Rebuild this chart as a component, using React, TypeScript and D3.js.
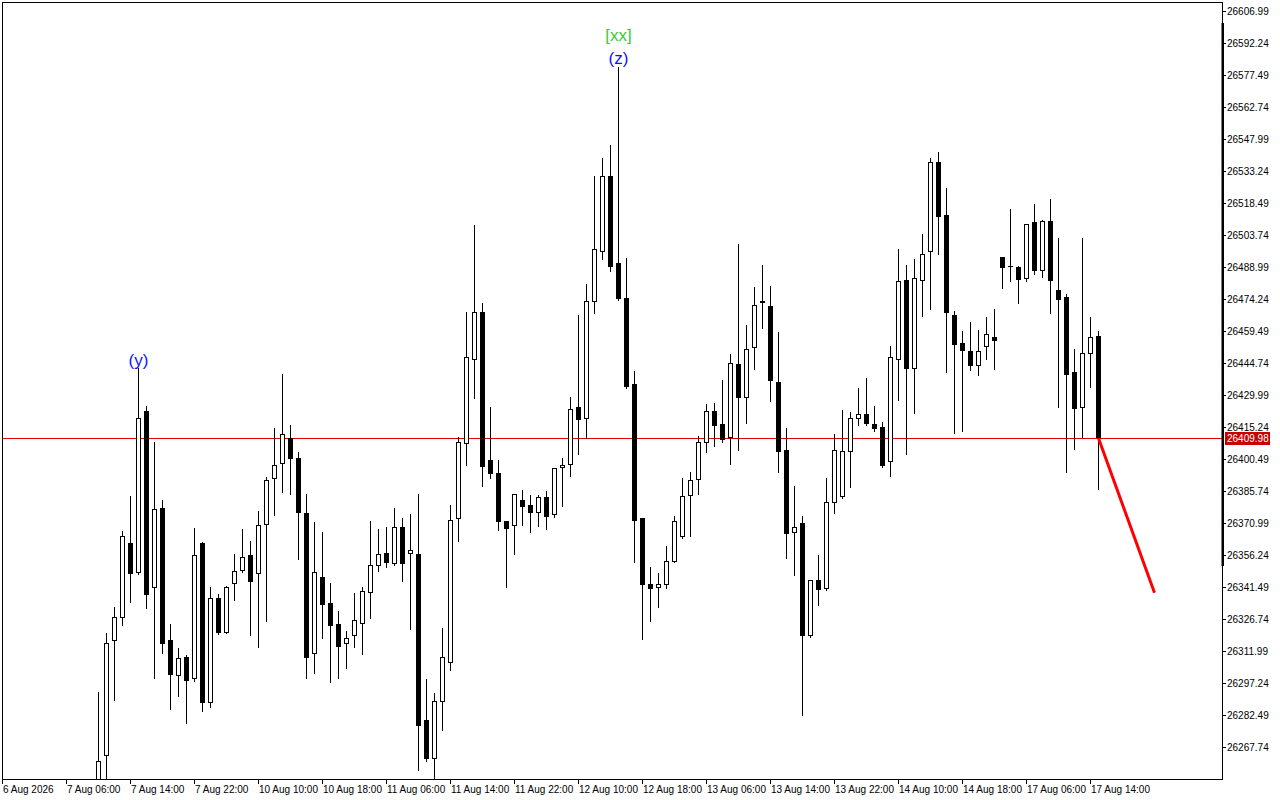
import React from "react";
import * as d3 from "d3";

// OHLC values (H1 bars)
const opens = [26250.22,26263.72,26316.72,26327.04,26361.73,26348.04,26422.55,26340.85,26377.72,26316.90,26300.31,26309.21,26299.20,26361.73,26287.87,26336.25,26320.40,26342.70,26348.69,26356.06,26347.30,26369.88,26391.08,26397.99,26409.97,26400.89,26375.55,26310.45,26345.92,26334.09,26324.27,26315.06,26318.74,26324.55,26338.55,26350.99,26356.98,26352.18,26368.96,26356.52,26356.52,26280.17,26262.34,26288.61,26306.58,26372.65,26407.21,26445.91,26468.03,26399.83,26393.84,26371.86,26369.42,26381.40,26379.24,26375.41,26382.92,26374.49,26396.15,26397.53,26424.26,26418.73,26472.64,26495.68,26530.84,26490.89,26474.48,26434.86,26373.11,26342.70,26340.85,26342.51,26353.11,26364.35,26383.25,26390.62,26407.67,26422.41,26416.56,26409.97,26444.07,26428.68,26451.44,26472.32,26470.94,26435.78,26404.42,26366.19,26370.80,26318.74,26344.53,26340.38,26380.02,26382.76,26403.52,26418.73,26421.03,26416.56,26415.04,26398.91,26445.91,26482.78,26441.77,26482.32,26495.68,26537.15,26512.72,26466.65,26453.88,26450.19,26443.14,26451.91,26456.51,26493.36,26489.37,26489.06,26483.51,26509.51,26486.92,26510.10,26478.31,26475.08,26440.67,26424.07,26448.68,26457.11];
const highs = [26293.21,26320.13,26332.38,26367.26,26383.38,26442.23,26424.86,26408.27,26381.54,26324.41,26313.35,26310.13,26368.64,26362.00,26341.30,26338.23,26342.08,26356.80,26368.18,26362.65,26376.47,26392.28,26414.72,26439.74,26416.10,26403.52,26384.31,26371.40,26366.79,26343.30,26330.40,26321.32,26338.69,26341.30,26371.86,26368.18,26369.10,26377.85,26373.25,26375.09,26384.31,26299.07,26292.75,26322.57,26379.24,26410.43,26468.17,26508.26,26472.18,26424.39,26400.03,26371.95,26384.30,26386.15,26383.85,26383.99,26385.69,26396.29,26400.89,26428.87,26466.65,26481.07,26530.98,26539.13,26545.12,26580.93,26492.92,26440.85,26373.20,26350.66,26347.90,26360.34,26374.17,26391.68,26394.44,26411.03,26425.78,26426.24,26436.84,26448.68,26499.50,26462.04,26479.69,26489.83,26480.15,26458.95,26414.56,26387.86,26374.03,26344.81,26356.34,26391.68,26411.95,26423.01,26421.95,26433.15,26437.76,26424.86,26417.48,26452.50,26497.20,26489.83,26492.59,26504.11,26538.99,26541.76,26525.17,26468.49,26459.41,26463.56,26459.88,26465.87,26469.55,26493.63,26515.63,26489.20,26508.59,26517.94,26510.56,26520.24,26502.27,26476.46,26451.12,26502.27,26465.87,26459.41];
const lows = [26245.61,26247.92,26289.39,26323.95,26334.69,26347.58,26331.92,26299.67,26311.19,26285.38,26291.37,26278.93,26298.28,26284.44,26286.30,26319.80,26320.26,26335.47,26348.60,26319.34,26313.95,26325.79,26374.77,26385.23,26384.31,26354.49,26299.67,26301.97,26318.10,26297.82,26299.67,26304.28,26313.95,26310.73,26327.31,26348.96,26350.81,26351.72,26344.35,26322.25,26257.27,26261.42,26250.22,26275.71,26303.35,26362.79,26397.67,26428.68,26388.13,26391.82,26367.86,26341.62,26356.80,26370.16,26366.94,26369.70,26368.29,26373.82,26378.91,26392.74,26402.88,26409.97,26467.85,26492.73,26487.20,26473.93,26433.38,26353.11,26317.64,26325.93,26332.38,26341.13,26353.00,26364.26,26365.09,26384.44,26403.48,26406.56,26408.40,26398.27,26404.72,26417.16,26442.04,26460.94,26427.30,26394.41,26354.95,26347.12,26282.62,26318.65,26333.30,26340.30,26375.68,26382.70,26387.67,26416.24,26416.30,26413.47,26396.89,26392.74,26427.76,26402.88,26421.79,26466.49,26469.69,26495.04,26440.67,26412.55,26413.47,26441.58,26439.27,26446.65,26442.04,26479.37,26482.59,26472.46,26482.59,26485.81,26484.43,26467.85,26424.53,26394.44,26405.18,26410.71,26433.75,26386.46];
const closes = [26261.42,26315.52,26327.50,26364.81,26347.58,26419.19,26337.90,26377.25,26315.33,26301.05,26308.61,26298.28,26356.06,26288.15,26336.55,26320.40,26341.62,26348.69,26355.14,26343.89,26369.88,26390.62,26397.53,26411.82,26400.31,26375.41,26308.88,26348.36,26333.30,26323.63,26313.67,26317.82,26326.12,26339.47,26351.45,26356.52,26352.37,26368.96,26352.18,26358.36,26277.55,26262.34,26288.93,26309.07,26372.19,26408.13,26447.30,26468.03,26396.89,26393.38,26371.54,26368.32,26384.17,26378.45,26375.41,26382.92,26373.82,26396.15,26397.53,26423.33,26418.27,26473.10,26497.06,26530.84,26489.14,26474.30,26433.75,26372.00,26342.51,26340.67,26342.70,26353.29,26371.72,26383.25,26390.62,26408.13,26422.41,26415.78,26409.32,26444.53,26428.68,26451.12,26471.26,26473.24,26436.52,26403.72,26366.10,26368.96,26319.02,26344.53,26339.92,26380.48,26404.42,26403.96,26419.19,26421.03,26416.42,26414.39,26397.35,26447.30,26482.32,26442.04,26483.70,26494.76,26537.15,26512.08,26467.58,26453.10,26450.33,26443.42,26450.05,26457.90,26454.94,26488.56,26489.05,26483.05,26508.59,26487.20,26510.10,26482.59,26473.84,26439.27,26423.61,26449.14,26456.65,26409.98];

const timeLabels = ["6 Aug 2026","7 Aug 06:00","7 Aug 14:00","7 Aug 22:00","10 Aug 10:00","10 Aug 18:00","11 Aug 06:00","11 Aug 14:00","11 Aug 22:00","12 Aug 10:00","12 Aug 18:00","13 Aug 06:00","13 Aug 14:00","13 Aug 22:00","14 Aug 10:00","14 Aug 18:00","17 Aug 06:00","17 Aug 14:00"];
const timeLabelBars = [-12,-4,4,12,20,28,36,44,52,60,68,76,84,92,100,108,116,124];
const priceTicks = [26606.99,26592.24,26577.49,26562.74,26547.99,26533.24,26518.49,26503.74,26488.99,26474.24,26459.49,26444.74,26429.99,26415.24,26400.49,26385.74,26370.99,26356.24,26341.49,26326.74,26311.99,26297.24,26282.49,26267.74];

const currentPrice = 26409.98;
const projectionBars = [125, 132];
const projectionPrices = [26409.98, 26338.83];

const waveLabels = [
  { bar: 5, price: 26442.23, text: "(y)", color: "#1010ff", offset: 8 },
  { bar: 65, price: 26580.93, text: "(z)", color: "#1010ff", offset: 9 },
  { bar: 65, price: 26580.93, text: "[xx]", color: "#3ec83e", offset: 32 },
];

const FONT = "'Liberation Sans', Arial, sans-serif";

export default function App() {
  const left = 2, top = 2, right = 1222, bottom = 779;
  const x = d3.scaleLinear().domain([0, 1]).range([98.5, 106.5]);
  const y = d3.scaleLinear().domain([26267.74, 26606.99]).range([747.0, 10.75]);
  const r = (v: number) => Math.round(v);

  const candles = opens.map((o, i) => {
    const h = highs[i], l = lows[i], c = closes[i];
    const cx = x(i);
    const bull = c >= o;
    const yt = r(y(Math.max(o, c)));
    const yb = r(y(Math.min(o, c)));
    const yh = r(y(h));
    const yl = r(y(l));
    const wick = <line key={"w" + i} x1={cx} x2={cx} y1={yh} y2={yl + 1} stroke="#000" strokeWidth={1} />;
    let body;
    if (yb - yt <= 1) {
      body = <line key={"b" + i} x1={cx - 2.5} x2={cx + 2.5} y1={yt + 0.5} y2={yt + 0.5} stroke="#000" strokeWidth={1} />;
    } else if (bull) {
      body = <rect key={"b" + i} x={cx - 2} y={yt + 0.5} width={4} height={yb - yt - 1} fill="#fff" stroke="#000" strokeWidth={1} />;
    } else {
      body = <rect key={"b" + i} x={cx - 2.5} y={yt} width={5} height={yb - yt} fill="#000" />;
    }
    return <g key={i}>{wick}{body}</g>;
  });

  const cpY = r(y(currentPrice)) + 0.5;

  return (
    <svg width={1280} height={800} style={{ position: "absolute", left: 0, top: 0, background: "#fff" }}>
      <rect x={0} y={0} width={1280} height={800} fill="#fff" />
      <defs>
        <clipPath id="plot">
          <rect x={left} y={top} width={right - left} height={bottom - top} />
        </clipPath>
      </defs>
      <g clipPath="url(#plot)">
        <line x1={left} x2={right} y1={cpY} y2={cpY} stroke="#e00000" strokeWidth={1} />
        {candles}
        <line
          x1={x(projectionBars[0])} y1={y(projectionPrices[0])}
          x2={x(projectionBars[1])} y2={y(projectionPrices[1])}
          stroke="#ff0000" strokeWidth={3}
        />
        {waveLabels.map((w, i) => (
          <text key={i} x={x(w.bar)} y={y(w.price) - w.offset} fill={w.color} fontFamily={FONT} fontSize={17}
            textAnchor="middle" dominantBaseline="central">{w.text}</text>
        ))}
      </g>
      {/* frame */}
      <rect x={left + 0.5} y={top + 0.5} width={right - left} height={bottom - top} fill="none" stroke="#000" strokeWidth={1} />
      <rect x={right - 0.5} y={23} width={2.5} height={543} fill="#000" />
      {/* price axis */}
      {priceTicks.map((p, i) => {
        const ty = r(y(p)) + 0.5;
        return (
          <g key={i}>
            <line x1={right} x2={right + 4} y1={ty} y2={ty} stroke="#000" strokeWidth={1} />
            <text x={right + 5} y={ty} fontFamily={FONT} fontSize={10} fill="#000" dominantBaseline="central">{p.toFixed(2)}</text>
          </g>
        );
      })}
      <rect x={right + 3} y={cpY - 6.5} width={45} height={13} fill="#c80000" />
      <text x={right + 5} y={cpY} fontFamily={FONT} fontSize={10} fill="#fff" dominantBaseline="central">{currentPrice.toFixed(2)}</text>
      {/* time axis */}
      {timeLabels.map((t, i) => {
        const tx = x(timeLabelBars[i]);
        return (
          <g key={i}>
            <line x1={tx} x2={tx} y1={bottom} y2={bottom + 5} stroke="#000" strokeWidth={1} />
            <text x={tx + 0.5} y={793} fontFamily={FONT} fontSize={10} fill="#000">{t}</text>
          </g>
        );
      })}
    </svg>
  );
}
